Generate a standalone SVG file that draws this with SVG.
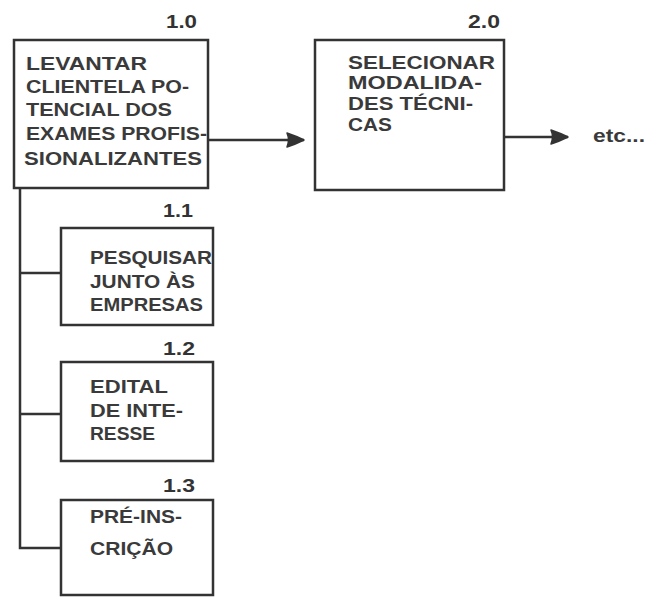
<svg xmlns="http://www.w3.org/2000/svg" width="645" height="598" viewBox="0 0 645 598">
<defs>
<style>
.box{fill:none;stroke:#333;stroke-width:2.5}
.t{font-family:"Liberation Sans",Arial,sans-serif;font-weight:bold;fill:#3a3a3a;font-size:17.5px}
.num{font-family:"Liberation Sans",Arial,sans-serif;font-weight:bold;fill:#333;font-size:19px}
.ln{fill:none;stroke:#333;stroke-width:2.5}
</style>
<marker id="ah" markerUnits="userSpaceOnUse" markerWidth="22" markerHeight="18" refX="18" refY="8" orient="auto">
<path d="M1,1 Q4,8 1,15 Q10,12 18,8 Q10,4 1,1 Z" fill="#333" stroke="#333" stroke-width="1.5" stroke-linejoin="round"/>
</marker>
</defs>
<rect width="645" height="598" fill="#fff"/>
<g id="connectors">
<line class="ln" x1="208" y1="140" x2="304" y2="140" marker-end="url(#ah)"/>
<line class="ln" x1="504" y1="137" x2="568" y2="137" marker-end="url(#ah)"/>
<polyline class="ln" points="20,188 20,548 61,548"/>
<line class="ln" x1="20" y1="273" x2="61" y2="273"/>
<line class="ln" x1="20" y1="414" x2="61" y2="414"/>
</g>
<g id="n1_0">
<text class="num" x="166" y="28" textLength="31" lengthAdjust="spacingAndGlyphs">1.0</text>
<rect class="box" x="14" y="40" width="194" height="148"/>
<text class="t" x="26" y="70" textLength="121" lengthAdjust="spacingAndGlyphs">LEVANTAR</text>
<text class="t" x="26" y="93" textLength="163" lengthAdjust="spacingAndGlyphs">CLIENTELA PO-</text>
<text class="t" x="26" y="116" textLength="146" lengthAdjust="spacingAndGlyphs">TENCIAL DOS</text>
<text class="t" x="26" y="140" textLength="181" lengthAdjust="spacingAndGlyphs">EXAMES PROFIS-</text>
<text class="t" x="24" y="165" textLength="178" lengthAdjust="spacingAndGlyphs">SIONALIZANTES</text>
</g>
<g id="n2_0">
<text class="num" x="468" y="28" textLength="32" lengthAdjust="spacingAndGlyphs">2.0</text>
<rect class="box" x="315" y="40" width="189" height="150"/>
<text class="t" x="348" y="69" textLength="147" lengthAdjust="spacingAndGlyphs">SELECIONAR</text>
<text class="t" x="348" y="89" textLength="134" lengthAdjust="spacingAndGlyphs">MODALIDA-</text>
<text class="t" x="348" y="110" textLength="125" lengthAdjust="spacingAndGlyphs">DES TÉCNI-</text>
<text class="t" x="348" y="131" textLength="44" lengthAdjust="spacingAndGlyphs">CAS</text>
</g>
<g id="etc">
<text class="t" x="593" y="142" textLength="52" lengthAdjust="spacingAndGlyphs">etc...</text>
</g>
<g id="n1_1">
<text class="num" x="163" y="217" textLength="30" lengthAdjust="spacingAndGlyphs">1.1</text>
<rect class="box" x="61" y="228" width="152" height="97"/>
<text class="t" x="90" y="264" textLength="122" lengthAdjust="spacingAndGlyphs">PESQUISAR</text>
<text class="t" x="90" y="288" textLength="105" lengthAdjust="spacingAndGlyphs">JUNTO ÀS</text>
<text class="t" x="90" y="311" textLength="113" lengthAdjust="spacingAndGlyphs">EMPRESAS</text>
</g>
<g id="n1_2">
<text class="num" x="163" y="355" textLength="32" lengthAdjust="spacingAndGlyphs">1.2</text>
<rect class="box" x="61" y="362" width="152" height="99"/>
<text class="t" x="90" y="393" textLength="78" lengthAdjust="spacingAndGlyphs">EDITAL</text>
<text class="t" x="90" y="417" textLength="93" lengthAdjust="spacingAndGlyphs">DE INTE-</text>
<text class="t" x="90" y="440" textLength="65" lengthAdjust="spacingAndGlyphs">RESSE</text>
</g>
<g id="n1_3">
<text class="num" x="163" y="492" textLength="32" lengthAdjust="spacingAndGlyphs">1.3</text>
<rect class="box" x="61" y="500" width="152" height="95"/>
<text class="t" x="90" y="523" textLength="92" lengthAdjust="spacingAndGlyphs">PRÉ-INS-</text>
<text class="t" x="90" y="555" textLength="83" lengthAdjust="spacingAndGlyphs">CRIÇÃO</text>
</g>
</svg>
